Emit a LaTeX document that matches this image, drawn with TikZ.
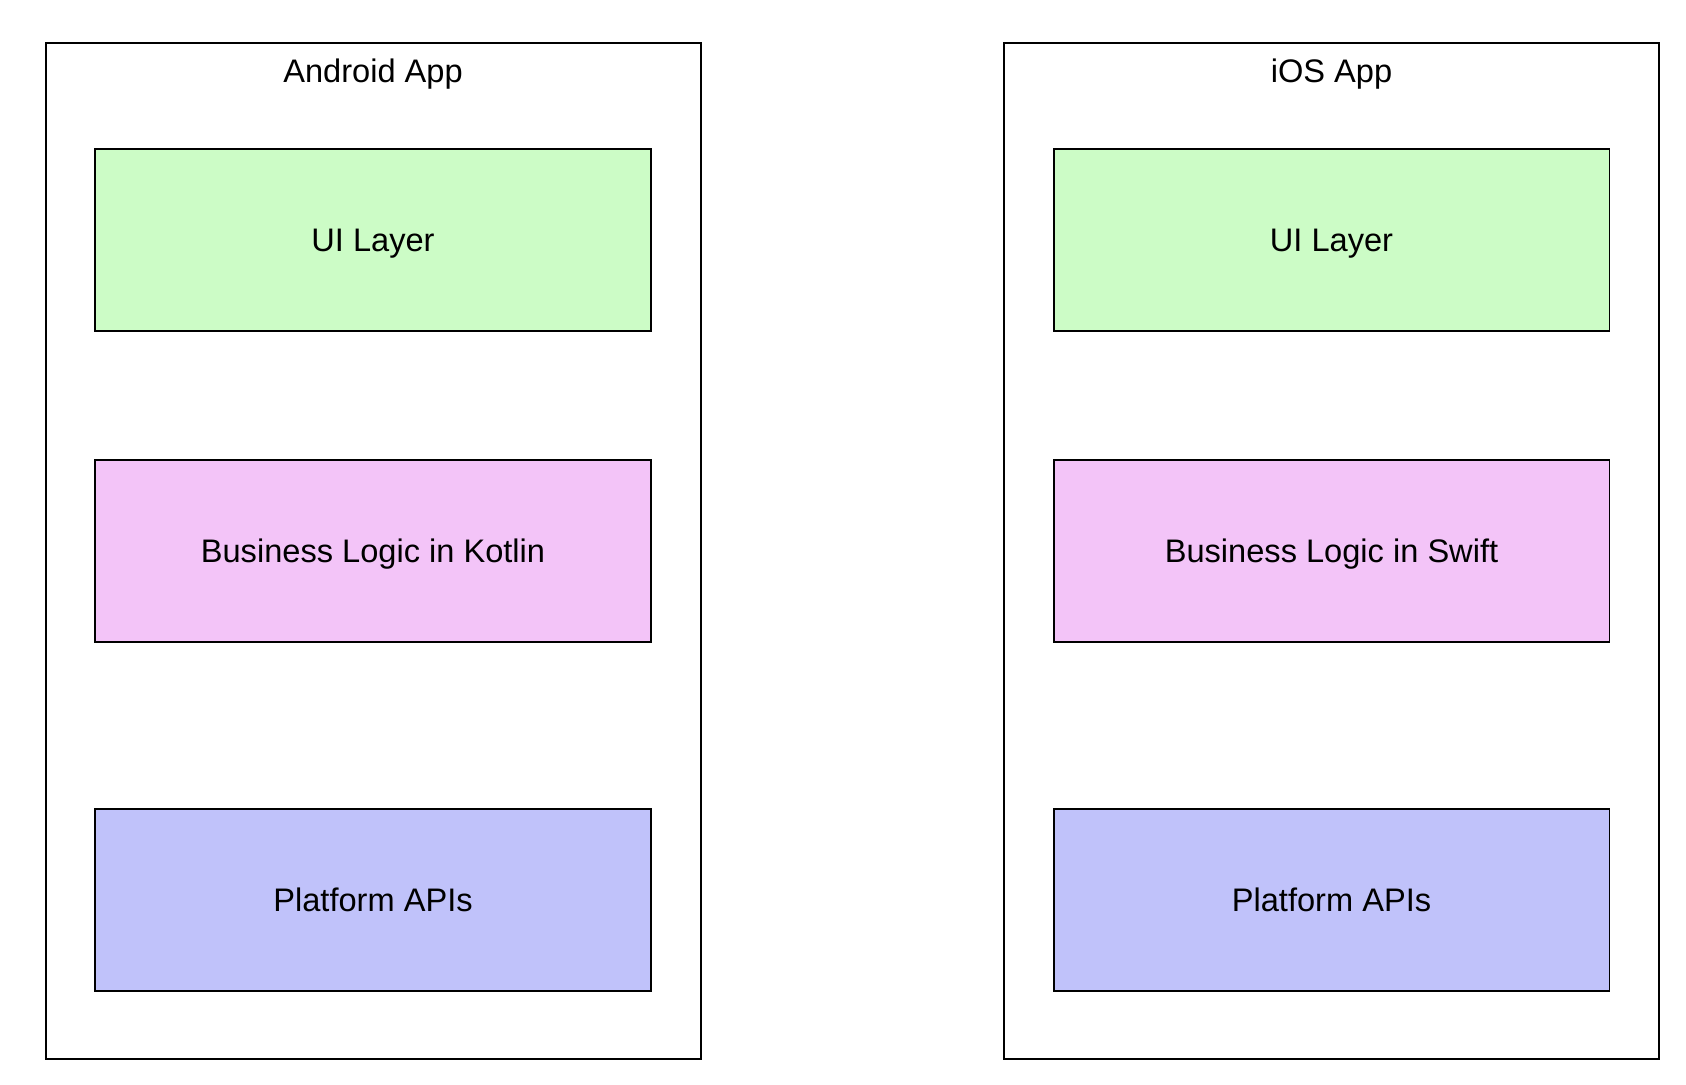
\documentclass[tikz,border=0pt]{standalone}
\usepackage{fontspec}
\setmainfont{Liberation Sans}
\usepackage{xcolor}
\usepackage{tikz}
\usetikzlibrary{positioning}

\definecolor{uigreen}{HTML}{CCFCC6}
\definecolor{logicpink}{HTML}{F3C4F8}
\definecolor{apiblue}{HTML}{C0C2FA}

\tikzset{
    appbox/.style={draw, line width=1pt, minimum width=327.5pt, minimum height=508pt},
    layerbox/.style={draw, line width=0.8pt, minimum width=277.8pt, minimum height=91pt},
    apptitle/.style={font=\fontsize{16.3}{19}\selectfont, text height=11.7pt, text depth=0pt},
    layertext/.style={font=\fontsize{16.3}{19}\selectfont, text height=11.7pt, text depth=0pt}
}

\begin{document}
\begin{tikzpicture}[x=0.5pt, y=-0.5pt]
    \useasboundingbox (0, 0) rectangle (1686, 1084);

    % Android side
    \node[appbox] (android) at (373, 551) {};
    \node[apptitle] (androidTitle) at (373, 71) {Android App};
    \node[layerbox, fill=uigreen, layertext] (androidUI) at (373, 240) {UI Layer};
    \node[layerbox, fill=logicpink, layertext] (androidLogic) at (373, 551) {Business Logic in Kotlin};
    \node[layerbox, fill=apiblue, layertext] (androidAPI) at (373, 900) {Platform APIs};

    % iOS side
    \node[appbox] (ios) at (1331.5, 551) {};
    \node[apptitle] (iosTitle) at (1331.5, 71) {iOS App};
    \node[layerbox, fill=uigreen, layertext] (iosUI) at (1331.5, 240) {UI Layer};
    \node[layerbox, fill=logicpink, layertext] (iosLogic) at (1331.5, 551) {Business Logic in Swift};
    \node[layerbox, fill=apiblue, layertext] (iosAPI) at (1331.5, 900) {Platform APIs};

\end{tikzpicture}
\end{document}
